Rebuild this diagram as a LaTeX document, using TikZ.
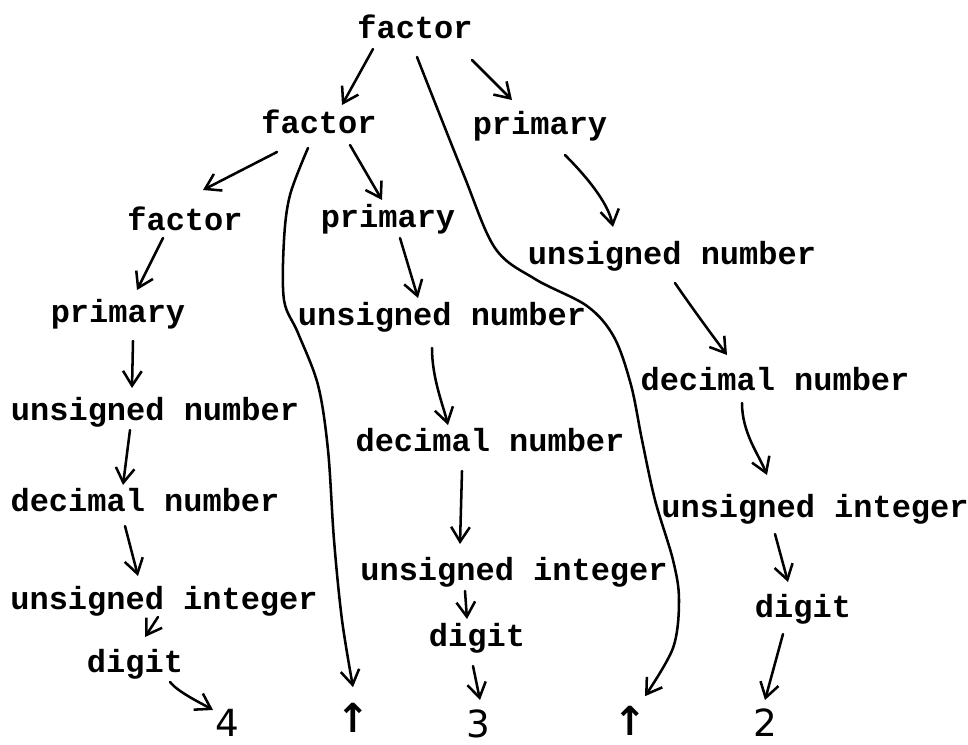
\documentclass[tikz,border=0pt]{standalone}
\usepackage{fontspec}
\setmonofont{Liberation Mono}
\newfontfamily\leaffont{DejaVu Sans}
\usetikzlibrary{arrows.meta}
\begin{document}
\begin{tikzpicture}[x=0.75pt,y=-0.75pt,
  lbl/.style={font=\fontsize{24}{28}\selectfont\ttfamily\bfseries, inner sep=0pt, anchor=base},
  leaf/.style={font=\fontsize{28}{32}\selectfont\leaffont, inner sep=0pt, anchor=base},
  opr/.style={font=\fontsize{30}{34}\selectfont\leaffont\bfseries, inner sep=0pt, anchor=south},
  arr/.style={line width=1.9pt, line cap=round, line join=round,
    -{Straight Barb[length=11pt,width=14pt,line width=1.9pt]}},
  ]
\useasboundingbox (0,0) rectangle (968,744);
% nodes
\node[lbl] (top) at (415,38) {factor};
\node[lbl] (f2) at (319,133) {factor};
\node[lbl] (pR) at (540,134) {primary};
\node[lbl] (f3) at (185,230) {factor};
\node[lbl] (pM) at (388,227) {primary};
\node[lbl] (unR) at (672,264) {unsigned number};
\node[lbl] (pL) at (118,322) {primary};
\node[lbl] (unM) at (442,325) {unsigned number};
\node[lbl] (unL) at (155,420) {unsigned number};
\node[lbl] (dnR) at (775,390) {decimal number};
\node[lbl] (dnM) at (490,451) {decimal number};
\node[lbl] (dnL) at (145,511) {decimal number};
\node[lbl] (uiR) at (815,517) {unsigned integer};
\node[lbl] (uiM) at (514,580) {unsigned integer};
\node[lbl] (uiL) at (164,609) {unsigned integer};
\node[lbl] (dR) at (803,617) {digit};
\node[lbl] (dM) at (477,646) {digit};
\node[lbl] (dL) at (135,672) {digit};
\node[leaf] (four) at (227,736) {4};
\node[opr] (up1) at (353,733) {↑};
\node[leaf] (three) at (478,737) {3};
\node[opr] (up2) at (630,736) {↑};
\node[leaf] (two) at (765,736) {2};
% straight-ish connectors
\draw[arr] ([shift={(-42,11)}]top.base) -- ([shift={(23,-28)}]f2.base);
\draw[arr] ([shift={(57,22)}]top.base) -- ([shift={(-28,-34)}]pR.base);
\draw[arr] ([shift={(-42,19)}]f2.base) -- ([shift={(18,-40)}]f3.base);
\draw[arr] ([shift={(31,12)}]f2.base) -- ([shift={(-6,-27)}]pM.base);
\draw[arr] ([shift={(25,21)}]pR.base) .. controls +(20,20) and +(-5,-25) .. ([shift={(-59,-37)}]unR.base);
\draw[arr] ([shift={(-22,8)}]f3.base) -- ([shift={(19,-32)}]pL.base);
\draw[arr] ([shift={(12,11)}]pM.base) -- ([shift={(-24,-27)}]unM.base);
\draw[arr] ([shift={(3,19)}]unR.base) .. controls +(15,22) and +(-15,-20) .. ([shift={(-48,-35)}]dnR.base);
\draw[arr] ([shift={(15,19)}]pL.base) -- ([shift={(-23,-32)}]unL.base);
\draw[arr] ([shift={(-10,23)}]unM.base) .. controls +(0,30) and +(-5,-20) .. ([shift={(-42,-26)}]dnM.base);
\draw[arr] ([shift={(-25,10)}]unL.base) -- ([shift={(-22,-26)}]dnL.base);
\draw[arr] ([shift={(-33,13)}]dnR.base) .. controls +(0,30) and +(-8,-20) .. ([shift={(-48,-42)}]uiR.base);
\draw[arr] ([shift={(-28,20)}]dnM.base) -- ([shift={(-54,-36)}]uiM.base);
\draw[arr] ([shift={(-20,15)}]dnL.base) -- ([shift={(-26,-33)}]uiL.base);
\draw[arr] ([shift={(-40,17)}]uiR.base) -- ([shift={(-15,-35)}]dR.base);
\draw[arr] ([shift={(-49,11)}]uiM.base) -- ([shift={(-10,-27)}]dM.base);
\draw[arr] ([shift={(-6,8)}]uiL.base) -- ([shift={(10,-35)}]dL.base);
\draw[arr] ([shift={(35,10)}]dL.base) .. controls +(8,10) and +(-14,-8) .. ([shift={(-14,-26)}]four.base);
\draw[arr] ([shift={(-4,20)}]dM.base) -- ([shift={(2,-37)}]three.base);
\draw[arr] ([shift={(-20,17)}]dR.base) -- ([shift={(0,-36)}]two.base);
% long curves to the operators
\draw[arr] plot[smooth, tension=0.55] coordinates {([shift={(-11,15)}]f2.base) (290,195) (284,240) (284,300) (298,333) (318,385) (328,450) (334,540) (342,620) ([shift={(0,-16)}]up1.north)};
\draw[arr] plot[smooth, tension=0.55] coordinates {([shift={(2,19)}]top.base) (463,173) (495,248) (535,279) (587,306) (614,337) (631,385) (642,440) (655,500) (673,560) (679,600) (673,648) ([shift={(15,-10)}]up2.north)};
\end{tikzpicture}
\end{document}
